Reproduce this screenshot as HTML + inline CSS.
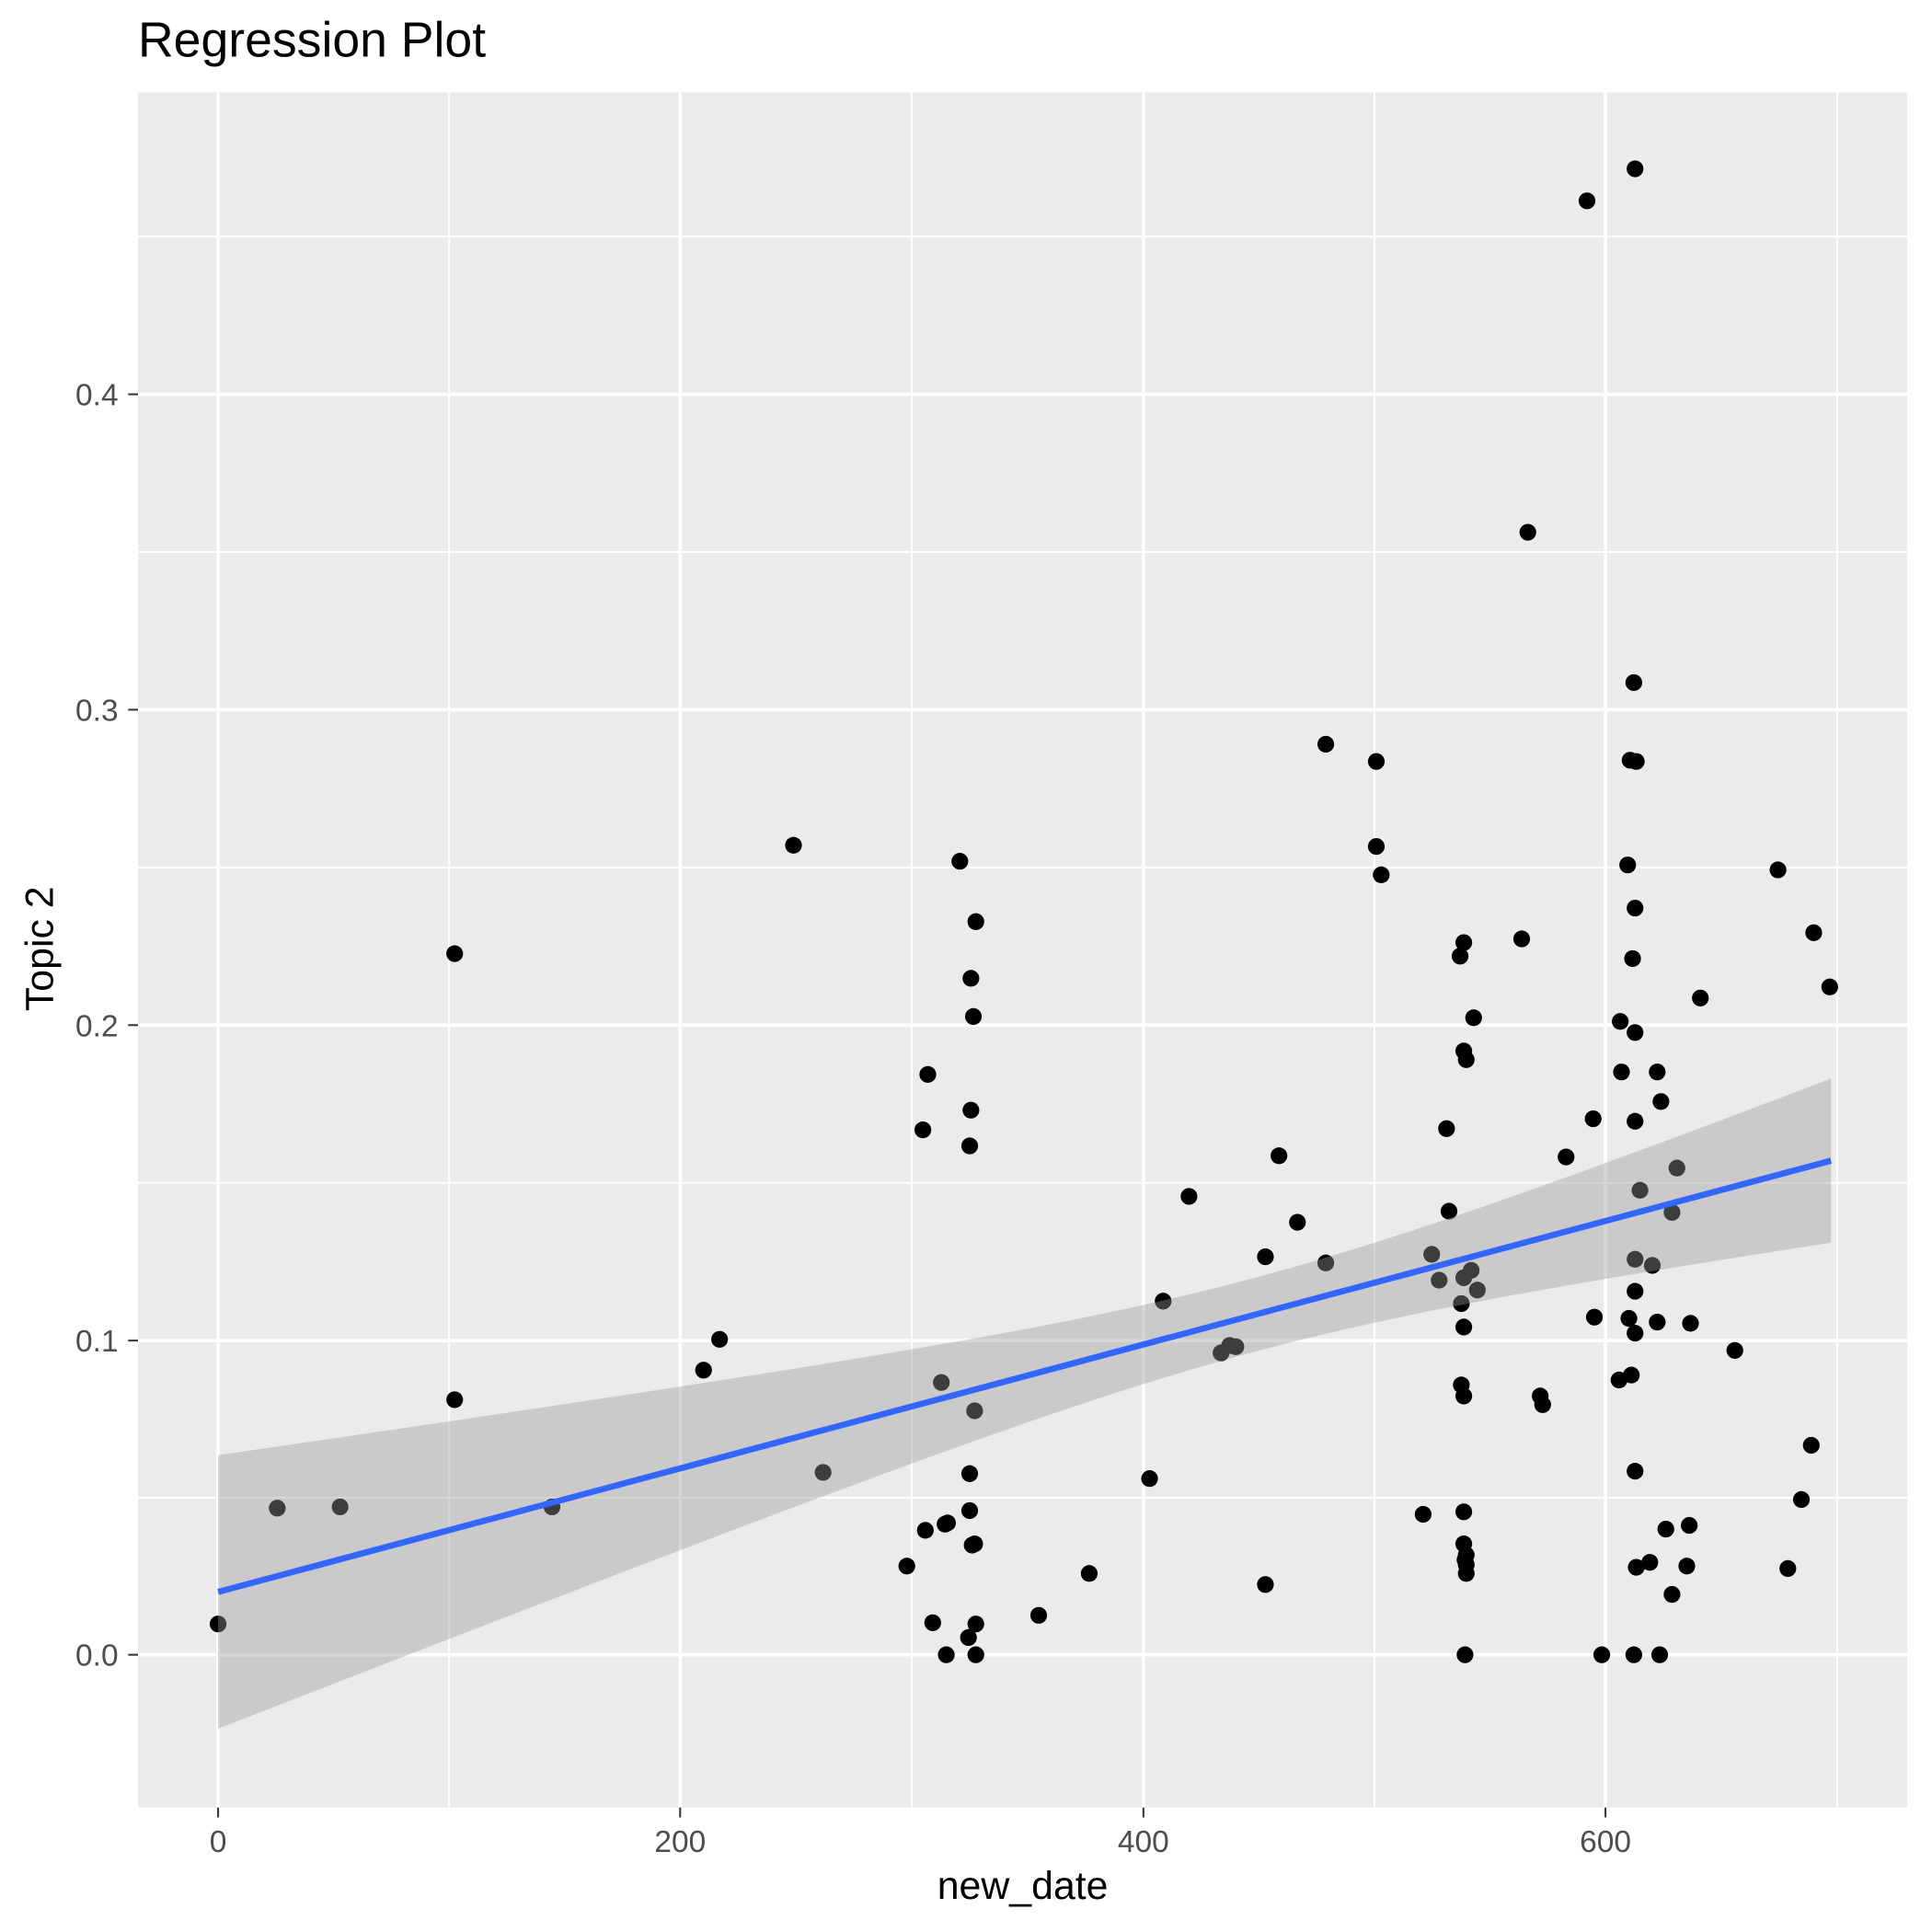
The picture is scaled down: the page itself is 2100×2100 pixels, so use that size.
<!DOCTYPE html>
<html><head><meta charset="utf-8"><style>html,body{margin:0;padding:0;background:#fff}svg{display:block}</style></head>
<body>
<svg id="s" xmlns="http://www.w3.org/2000/svg" width="2100" height="2100" viewBox="0 0 1568 1568" font-family="Liberation Sans, sans-serif">
<rect width="1568" height="1568" fill="#fff"/>
<rect x="112" y="75" width="1436" height="1392" fill="#EBEBEB"/>
<g stroke="#fff" stroke-width="1.5">
<line x1="364.5" x2="364.5" y1="75" y2="1467"/><line x1="740" x2="740" y1="75" y2="1467"/><line x1="1115.5" x2="1115.5" y1="75" y2="1467"/><line x1="1491" x2="1491" y1="75" y2="1467"/>
<line y1="1215.5" y2="1215.5" x1="112" x2="1548"/><line y1="960" y2="960" x1="112" x2="1548"/><line y1="704" y2="704" x1="112" x2="1548"/><line y1="448" y2="448" x1="112" x2="1548"/><line y1="192" y2="192" x1="112" x2="1548"/>
</g>
<g stroke="#fff" stroke-width="2.8">
<line x1="177" x2="177" y1="75" y2="1467"/><line x1="552" x2="552" y1="75" y2="1467"/><line x1="928" x2="928" y1="75" y2="1467"/><line x1="1303" x2="1303" y1="75" y2="1467"/>
<line y1="1343" y2="1343" x1="112" x2="1548"/><line y1="1088" y2="1088" x1="112" x2="1548"/><line y1="832" y2="832" x1="112" x2="1548"/><line y1="576" y2="576" x1="112" x2="1548"/><line y1="320" y2="320" x1="112" x2="1548"/>
</g>
<g id="pts" fill="#000"></g>
<polygon id="rib" fill="#999999" fill-opacity="0.4"/>
<line x1="177" y1="1292" x2="1486" y2="942" stroke="#3366FF" stroke-width="5"/>
<g stroke="#333" stroke-width="1.5">
<line x1="104" x2="112" y1="1343" y2="1343"/><line x1="104" x2="112" y1="1088" y2="1088"/><line x1="104" x2="112" y1="832" y2="832"/><line x1="104" x2="112" y1="576" y2="576"/><line x1="104" x2="112" y1="320" y2="320"/>
<line y1="1467" y2="1475" x1="177" x2="177"/><line y1="1467" y2="1475" x1="552" x2="552"/><line y1="1467" y2="1475" x1="928" x2="928"/><line y1="1467" y2="1475" x1="1303" x2="1303"/>
</g>
<g fill="#4D4D4D" font-size="25" text-anchor="end">
<text x="96" y="1352">0.0</text><text x="96" y="1097">0.1</text><text x="96" y="841">0.2</text><text x="96" y="585">0.3</text><text x="96" y="329">0.4</text>
</g>
<g fill="#4D4D4D" font-size="25" text-anchor="middle">
<text x="177" y="1503">0</text><text x="552" y="1503">200</text><text x="928" y="1503">400</text><text x="1303" y="1503">600</text>
</g>
<text x="830" y="1541" font-size="32" text-anchor="middle" fill="#000">new_date</text>
<text transform="translate(43,770) rotate(-90)" font-size="32" text-anchor="middle" fill="#000">Topic 2</text>
<text x="112" y="46" font-size="40" fill="#000">Regression Plot</text>
</svg>
<script>
var P=[[177,1318],[225,1224],[276,1223],[369,774],[369,1136],[448,1223],[571,1112],[584,1087],[644,686],[668,1195],[736,1271],[749,917],[751,1242],[753,872],[757,1317],[764,1122],[767,1237],[768,1343],[769,1236],[779,699],[786,1329],[787,1226],[787,930],[787,1196],[788,901],[788,794],[789,1254],[790,825],[791,1253],[792,748],[792,1318],[792,1343],[791,1145],[843,1311],[884,1277],[933,1200],[944,1056],[965,971],[991,1098],[998,1092],[1003,1093],[1027,1286],[1027,1020],[1038,938],[1053,992],[1076,1025],[1076,604],[1117,618],[1117,687],[1121,710],[1155,1229],[1162,1018],[1168,1039],[1174,916],[1176,983],[1185,776],[1186,1058],[1186,1124],[1188,765],[1188,853],[1188,1037],[1188,1077],[1188,1133],[1188,1227],[1188,1253],[1189,1343],[1189,1266],[1190,1270],[1190,1277],[1190,1262],[1190,860],[1194,1031],[1196,826],[1199,1047],[1235,762],[1240,432],[1250,1133],[1252,1140],[1271,939],[1288,163],[1293,908],[1294,1069],[1300,1343],[1314,1120],[1315,829],[1316,870],[1321,702],[1322,1070],[1323,617],[1324,1116],[1325,778],[1326,554],[1326,1343],[1327,137],[1327,1022],[1327,1048],[1327,737],[1327,838],[1327,910],[1327,1082],[1327,1194],[1328,618],[1328,1272],[1331,966],[1339,1268],[1341,1027],[1345,870],[1345,1073],[1347,1343],[1348,894],[1352,1241],[1357,1294],[1357,984],[1361,948],[1369,1271],[1371,1238],[1372,1074],[1380,810],[1408,1096],[1443,706],[1451,1273],[1462,1217],[1470,1173],[1472,757],[1485,801]];
var ns="http://www.w3.org/2000/svg",g=document.getElementById("pts");
P.forEach(function(p){var c=document.createElementNS(ns,"circle");c.setAttribute("cx",p[0]);c.setAttribute("cy",p[1]);c.setAttribute("r",6.8);g.appendChild(c);});
var upr=[],lwr=[];
for(var i=0;i<=60;i++){var x=177+(1486-177)*i/60;var y=1292-(350/1309)*(x-177);var h=Math.sqrt(900+0.01615*(x-1018)*(x-1018));upr.push(x.toFixed(1)+","+(y-h).toFixed(1));lwr.unshift(x.toFixed(1)+","+(y+h).toFixed(1));}
document.getElementById("rib").setAttribute("points",upr.concat(lwr).join(" "));
</script>
</body></html>
